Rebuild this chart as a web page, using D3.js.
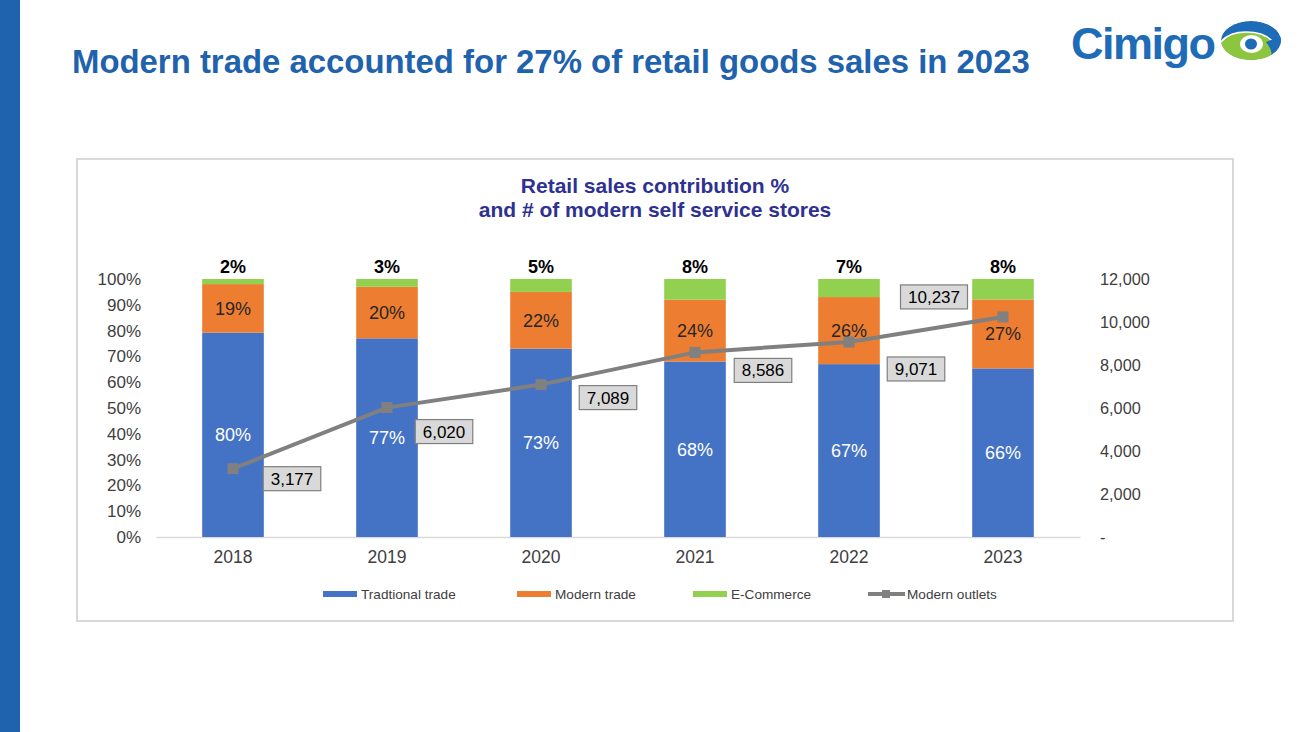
<!DOCTYPE html>
<html><head><meta charset="utf-8">
<script src="https://cdn.jsdelivr.net/npm/d3@7"></script>
<style>body{margin:0;background:#fff;}svg{display:block;font-family:"Liberation Sans",Arial,sans-serif;}</style>
</head><body>
<svg id="c" width="1304" height="732"></svg>
<script>
const years = ["2018","2019","2020","2021","2022","2023"];
const traditional = [80,77,73,68,67,66];
const modern = [19,20,22,24,26,27];
const ecommerce = [2,3,5,8,7,8];
const outlets = [3177,6020,7089,8586,9071,10237];
const leftTicks = [0,0.1,0.2,0.3,0.4,0.5,0.6,0.7,0.8,0.9,1];
const rightTicks = [0,2000,4000,6000,8000,10000,12000];
const seriesNames = ["Tradtional trade","Modern trade","E-Commerce","Modern outlets"];
const colors = ["#4472c4","#ed7d31","#92d050","#808080"];

const svg = d3.select("#c");
svg.append("rect").attr("x",0).attr("y",0).attr("width",20).attr("height",732).attr("fill","#1f62ad");
svg.append("text").attr("x",72).attr("y",73).attr("fill","#1f62ad").attr("font-size",32.9).attr("font-weight","bold")
  .text("Modern trade accounted for 27% of retail goods sales in 2023");

// logo
const logo = svg.append("g");
logo.append("text").attr("x",1071).attr("y",59).attr("fill","#1e6cb7").attr("font-size",45).attr("font-weight","bold")
  .attr("letter-spacing",-1.5).text("Cimigo");
svg.append("defs").append("clipPath").attr("id","eye").append("ellipse")
  .attr("cx",1251).attr("cy",40.5).attr("rx",30).attr("ry",19.5);
const eye = logo.append("g").attr("clip-path","url(#eye)");
eye.append("ellipse").attr("cx",1251).attr("cy",40.5).attr("rx",30).attr("ry",19.5).attr("fill","#1e6cb7");
eye.append("path").attr("d","M1218,46 Q1226,32 1246,32 Q1268,32 1276,46 Q1280,56 1268,64 L1218,64 Z")
  .attr("fill","#8cc63e").attr("stroke","#fff").attr("stroke-width",1.5);
eye.append("path").attr("d","M1266,42 Q1276,38 1284,36 L1284,64 L1268,64 Q1276,54 1266,42 Z").attr("fill","#1e6cb7");
logo.append("ellipse").attr("cx",1251.5).attr("cy",44).attr("rx",11.5).attr("ry",9).attr("fill","#fff");
logo.append("ellipse").attr("cx",1251).attr("cy",44).attr("rx",6).attr("ry",5.5).attr("fill","#1e6cb7");

// frame
svg.append("rect").attr("x",77).attr("y",159).attr("width",1156).attr("height",462).attr("fill","#fff")
  .attr("stroke","#d9d9d9").attr("stroke-width",2);
const ct = svg.append("text").attr("text-anchor","middle").attr("fill","#2e3192").attr("font-size",21).attr("font-weight","bold");
ct.append("tspan").attr("x",655).attr("y",193).text("Retail sales contribution %");
ct.append("tspan").attr("x",655).attr("y",217).text("and # of modern self service stores");

const x = d3.scaleBand().domain(years).range([156,1080]).paddingInner(0.6).paddingOuter(0.3);
const y = d3.scaleLinear().domain([0,1]).range([537,279]);
const y2 = d3.scaleLinear().domain([0,12000]).range([537,279]);

const rows = years.map((yr,i)=>({year:yr,t:traditional[i],m:modern[i],e:ecommerce[i]}));
const stack = d3.stack().keys(["t","m","e"]).offset(d3.stackOffsetExpand)(rows);

// axes
const ax = svg.append("g").attr("transform","translate(0,537)").call(d3.axisBottom(x).tickSize(0).tickPadding(14));
ax.select(".domain").attr("stroke","#d9d9d9").attr("stroke-width",1.5);
ax.selectAll("text").attr("font-size",17.5).attr("fill","#404040").attr("font-family","Liberation Sans, Arial, sans-serif");

const ay = svg.append("g").attr("transform","translate(141,0)").call(d3.axisLeft(y).tickValues(leftTicks).tickFormat(d3.format(".0%")).tickSize(0).tickPadding(0));
ay.select(".domain").remove();
ay.selectAll("text").attr("font-size",17).attr("fill","#404040").attr("font-family","Liberation Sans, Arial, sans-serif");

const ay2 = svg.append("g").attr("transform","translate(1100,0)").call(d3.axisRight(y2).tickValues(rightTicks).tickFormat(d=>d===0?"-":d3.format(",")(d)).tickSize(0).tickPadding(0));
ay2.select(".domain").remove();
ay2.selectAll("text").attr("font-size",16.3).attr("fill","#404040").attr("font-family","Liberation Sans, Arial, sans-serif");

// bars
stack.forEach((s,k)=>{
  svg.append("g").selectAll("rect").data(s).join("rect")
    .attr("x",d=>x(d.data.year)).attr("width",x.bandwidth())
    .attr("y",d=>y(d[1])).attr("height",d=>y(d[0])-y(d[1])).attr("fill",colors[k]);
});
// labels
const lbl = svg.append("g").attr("font-size",18).attr("text-anchor","middle");
stack[0].forEach((d,i)=>{
  lbl.append("text").attr("x",x(d.data.year)+x.bandwidth()/2).attr("y",(y(d[0])+y(d[1]))/2).attr("dy","0.35em")
    .attr("fill","#fff").text(traditional[i]+"%");
});
stack[1].forEach((d,i)=>{
  lbl.append("text").attr("x",x(d.data.year)+x.bandwidth()/2).attr("y",(y(d[0])+y(d[1]))/2).attr("dy","0.35em")
    .attr("fill","#262626").text(modern[i]+"%");
});
stack[2].forEach((d,i)=>{
  lbl.append("text").attr("x",x(d.data.year)+x.bandwidth()/2).attr("y",y(d[1])-6)
    .attr("fill","#000").attr("font-weight","bold").text(ecommerce[i]+"%");
});

// line
const cx = i=>x(years[i])+x.bandwidth()/2;
svg.append("path").datum(outlets).attr("fill","none").attr("stroke",colors[3]).attr("stroke-width",4)
  .attr("d",d3.line().x((d,i)=>cx(i)).y(d=>y2(d)));
svg.append("g").selectAll("rect").data(outlets).join("rect")
  .attr("x",(d,i)=>cx(i)-5.5).attr("y",d=>y2(d)-5.5).attr("width",11).attr("height",11).attr("fill",colors[3]);

// value boxes (layout offsets of the box centre from the point)
const boxOff = [[59,10],[57,24],[67,13],[68,18],[67,27],[-69,-20]];
const bg = svg.append("g");
outlets.forEach((v,i)=>{
  const px = cx(i)+boxOff[i][0], py = y2(v)+boxOff[i][1];
  const g = bg.append("g");
  const r = g.append("rect");
  const t = g.append("text").attr("x",px).attr("y",py).attr("dy","0.35em").attr("text-anchor","middle")
    .attr("font-size",17).attr("fill","#000").text(d3.format(",")(v));
  const w = t.node().getComputedTextLength()+15;
  r.attr("x",px-w/2).attr("y",py-12).attr("width",w).attr("height",24).attr("fill","#d9d9d9").attr("stroke","#7f7f7f").attr("stroke-width",1.2);
});

// legend
const legX = [323,517,693,868];
const lg = svg.append("g").attr("font-size",13.6).attr("fill","#404040");
seriesNames.forEach((n,i)=>{
  if(i<3){
    lg.append("rect").attr("x",legX[i]).attr("y",591).attr("width",34).attr("height",6).attr("fill",colors[i]);
    lg.append("text").attr("x",legX[i]+38).attr("y",594).attr("dy","0.35em").attr("fill","#404040").text(n);
  } else {
    lg.append("line").attr("x1",legX[i]).attr("x2",legX[i]+37).attr("y1",594).attr("y2",594).attr("stroke",colors[3]).attr("stroke-width",4);
    lg.append("rect").attr("x",legX[i]+14).attr("y",590).attr("width",8).attr("height",8).attr("fill",colors[3]);
    lg.append("text").attr("x",legX[i]+39).attr("y",594).attr("dy","0.35em").attr("fill","#404040").text(n);
  }
});
</script>
</body></html>
